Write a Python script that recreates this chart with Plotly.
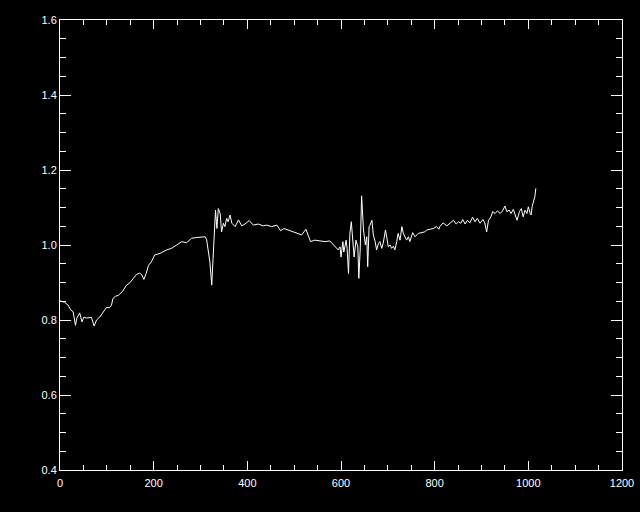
import plotly.graph_objects as go

# Data
x_vals = [0, 10, 17, 23, 28, 33, 36, 42, 47, 51, 56, 63, 67, 73, 78, 85, 92, 99, 106, 110,
          113, 118, 125, 134, 142, 149, 156, 163, 170, 175, 179, 184, 189, 195, 202, 209, 216,
          228, 238, 249, 260, 270, 281, 292, 303, 310, 313, 317, 320, 324, 326, 329, 332, 335,
          338, 342, 345, 349, 352, 356, 359, 363, 367, 374, 381, 388, 395, 404, 413, 423, 434,
          441, 452, 463, 471, 478, 487, 498, 509, 516, 525, 530, 535, 544, 555, 566, 576, 587,
          594, 598, 600, 604, 606, 611, 613, 616, 619, 622, 625, 628, 632, 636, 638, 641, 644,
          648, 652, 655, 657, 660,
          662, 666, 669, 673, 676, 680, 683, 687, 690, 695, 698, 701, 705, 708, 712, 715, 719,
          722, 726, 730, 733, 737, 740, 744, 747, 753, 758, 765, 772, 779, 783, 790, 797, 804,
          809, 811, 818, 826, 833, 840, 846, 851, 856, 860, 865, 870, 875, 881, 886, 891, 897,
          903, 907, 911, 915, 920, 924, 929, 934, 940, 945, 950, 954, 959, 963, 968, 972, 976,
          981, 985, 989, 993, 997, 1000, 1004, 1006, 1008, 1011, 1014, 1016]
y_vals = [0.851, 0.847, 0.840, 0.827, 0.822, 0.786, 0.805, 0.819, 0.795, 0.808, 0.805, 0.807,
          0.807, 0.784, 0.800, 0.808, 0.822, 0.833, 0.833, 0.840,
          0.857, 0.863, 0.866, 0.877, 0.893, 0.899, 0.910, 0.921, 0.925, 0.920, 0.908, 0.924,
          0.946, 0.955, 0.973, 0.976, 0.979,
          0.987, 0.991, 1.000, 1.009, 1.006, 1.018, 1.020, 1.020, 1.022, 1.015, 0.978, 0.955,
          0.893, 0.950, 1.040, 1.093, 1.044,
          1.097, 1.084, 1.035, 1.058, 1.049, 1.071, 1.062, 1.080, 1.058, 1.049, 1.067, 1.051,
          1.056, 1.065, 1.053, 1.056, 1.051,
          1.053, 1.049, 1.053, 1.038, 1.044, 1.040, 1.035, 1.031, 1.027, 1.042, 1.027, 1.009,
          1.013, 1.011, 1.009, 1.011, 0.995,
          0.987, 0.995, 0.968, 1.009, 0.981, 1.013, 0.991, 0.924, 1.031, 1.062, 1.004, 0.968,
          1.013, 0.995, 0.911, 0.987, 1.131,
          1.040, 1.000, 1.022, 0.942, 1.049,
          1.053, 1.066, 1.027, 1.009, 0.987, 1.004, 1.009, 0.991, 1.004, 1.040, 1.018, 0.995,
          1.000, 0.991, 0.997, 0.987, 1.009,
          1.031, 1.013, 1.049, 1.031, 1.018, 1.013, 1.022, 1.009, 1.033, 1.022, 1.031, 1.033,
          1.035, 1.040, 1.042, 1.044, 1.049,
          1.042, 1.049, 1.059, 1.051, 1.058, 1.066, 1.056, 1.062, 1.058, 1.068, 1.056, 1.066,
          1.059, 1.074, 1.062, 1.071, 1.058,
          1.068, 1.059, 1.035, 1.066, 1.075, 1.089, 1.084, 1.091, 1.084, 1.091, 1.104, 1.089,
          1.093, 1.084, 1.095, 1.080, 1.066,
          1.089, 1.097, 1.075, 1.093, 1.084, 1.102, 1.084, 1.080, 1.102, 1.119, 1.129, 1.151]

x_range = [0, 1200]
y_range = [0.4, 1.6]
x_ticks = [0, 200, 400, 600, 800, 1000, 1200]
y_ticks = [0.4, 0.6, 0.8, 1.0, 1.2, 1.4, 1.6]
y_tick_text = ["0.4", "0.6", "0.8", "1.0", "1.2", "1.4", "1.6"]

fig = go.Figure()
fig.add_trace(go.Scatter(x=x_vals, y=y_vals, mode="lines",
                         line=dict(color="white", width=1), showlegend=False,
                         hoverinfo="skip"))

font = dict(family="Liberation Sans, Arial, sans-serif", size=11, color="white")

fig.update_layout(
    width=640, height=512,
    margin=dict(l=60, r=18, t=20, b=42, autoexpand=False),
    paper_bgcolor="black", plot_bgcolor="black",
    font=font,
    xaxis=dict(range=x_range, tickvals=x_ticks, ticktext=[str(v) for v in x_ticks],
               automargin=False, ticklabelstandoff=3,
               showgrid=False, zeroline=False, showline=True, linecolor="white",
               linewidth=1, mirror="ticks", ticks="inside", ticklen=9, tickwidth=1,
               tickcolor="white", tickfont=font,
               minor=dict(dtick=50, ticks="inside", ticklen=5, tickcolor="white",
                          tickwidth=1, showgrid=False)),
    yaxis=dict(range=y_range, tickvals=y_ticks, ticktext=y_tick_text,
               automargin=False,
               showgrid=False, zeroline=False, showline=True, linecolor="white",
               linewidth=1, mirror="ticks", ticks="inside", ticklen=11, tickwidth=1,
               tickcolor="white", tickfont=font,
               minor=dict(dtick=0.05, ticks="inside", ticklen=6, tickcolor="white",
                          tickwidth=1, showgrid=False)),
)

fig.write_html(
    "out.html",
    config={"displayModeBar": False},
    post_script=("document.body.style.margin='0';"
                 "document.body.style.background='black';"
                 "document.documentElement.style.overflow='hidden';"),
)
